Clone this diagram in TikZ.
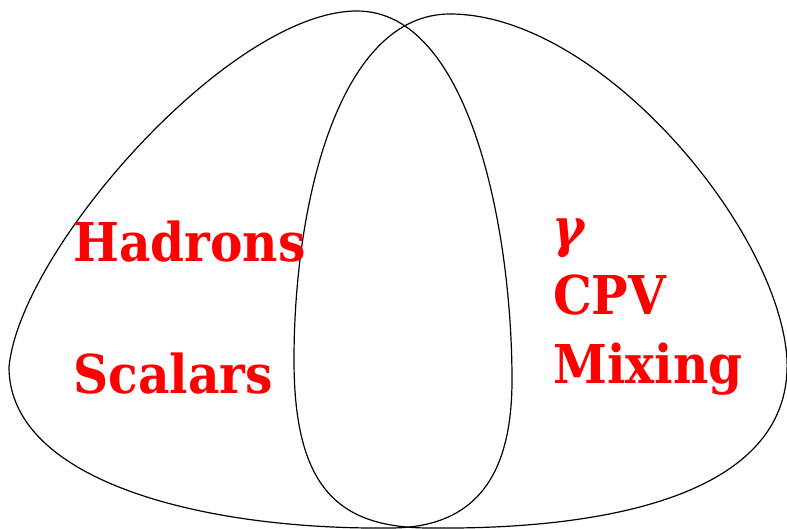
\documentclass[tikz,border=0pt]{standalone}
\usepackage{fontspec}
\setmainfont{DejaVu Serif}[FakeStretch=0.91]
\begin{document}
\begin{tikzpicture}[x=1pt,y=-1pt,
  setline/.style={draw=black,line width=1.2pt},
  lbl/.style={anchor=base west,inner sep=0pt,text=red,font=\fontsize{53.5}{60}\selectfont\bfseries}]
\useasboundingbox (0,0) rectangle (787,529);
% left set
\draw[setline] (357,11) .. controls (230,11) and (20,250) .. (9,367)
  .. controls (9,480) and (200,530) .. (390,528)
  .. controls (480,528) and (512,470) .. (512,380)
  .. controls (512,230) and (470,11) .. (357,11) -- cycle;
% right set
\draw[setline] (450,14) .. controls (600,14) and (780,230) .. (787,360)
  .. controls (792,490) and (620,530) .. (430,528)
  .. controls (340,528) and (294,490) .. (294,360)
  .. controls (294,200) and (340,14) .. (450,14) -- cycle;
\node[lbl] (had) at (73,262) {Hadrons};
\node[lbl] (sca) at (73,393) {Scalars};
\node[lbl] (gam) at (552,247) {\itshape γ};
\node[lbl] (cpv) at (553,315) {CPV};
\node[lbl] (mix) at (553,383) {Mixing};
\end{tikzpicture}
\end{document}
